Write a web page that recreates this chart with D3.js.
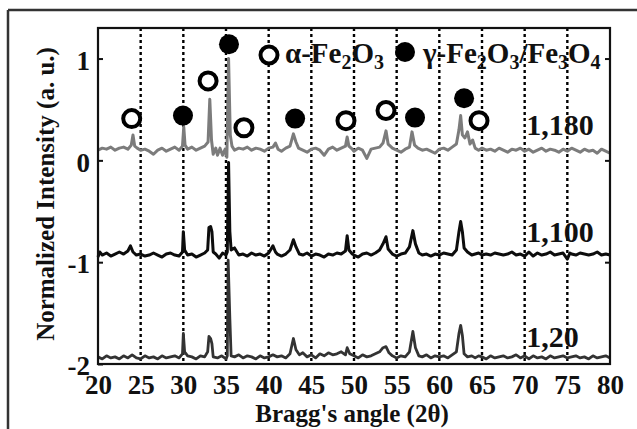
<!DOCTYPE html>
<html>
<head>
<meta charset="utf-8">
<script src="https://cdn.jsdelivr.net/npm/d3@7"></script>
<style>
  body { margin: 0; background: #fff; }
  svg text { font-family: "Liberation Serif", "Times New Roman", serif; font-weight: bold; fill: #111; }
</style>
</head>
<body>
<script>
// XRD scans: [Bragg angle, normalized intensity]
const scan1180 = [
  [20.0,0.10],[20.5,0.12],[21.0,0.11],[21.5,0.13],[22.0,0.10],[22.5,0.12],[23.0,0.13],[23.5,0.11],[23.9,0.15],[24.1,0.25],
  [24.3,0.14],[24.6,0.12],[25.0,0.10],[25.5,0.11],[26.0,0.09],[26.5,0.06],[27.0,0.10],[27.5,0.12],[28.0,0.09],[28.5,0.11],
  [29.0,0.13],[29.5,0.10],[29.9,0.14],[30.05,0.33],[30.2,0.15],[30.5,0.11],[31.0,0.13],[31.5,0.10],[32.0,0.12],[32.5,0.14],
  [32.9,0.18],[33.1,0.60],[33.3,0.20],[33.5,0.06],[33.8,0.12],[34.0,0.05],[34.3,0.12],[34.6,0.05],[34.9,0.11],[35.1,0.03],
  [35.3,1.00],[35.5,0.25],[35.7,0.14],[36.0,0.10],[36.5,0.12],[37.0,0.11],[37.5,0.13],[38.0,0.10],[38.5,0.12],[39.0,0.11],
  [39.5,0.09],[40.0,0.12],[40.5,0.13],[40.8,0.17],[41.1,0.11],[41.5,0.09],[42.0,0.12],[42.5,0.14],[42.9,0.26],[43.2,0.18],
  [43.5,0.12],[44.0,0.10],[44.5,0.08],[45.0,0.11],[45.5,0.12],[46.0,0.10],[46.5,0.05],[47.0,0.11],[47.5,0.13],[48.0,0.10],
  [48.5,0.12],[49.0,0.14],[49.2,0.23],[49.4,0.14],[49.8,0.11],[50.0,0.09],[50.5,0.12],[51.0,0.10],[51.5,0.02],[52.0,0.11],
  [52.5,0.12],[53.0,0.13],[53.4,0.17],[53.75,0.29],[54.0,0.16],[54.5,0.12],[55.0,0.10],[55.5,0.08],[56.0,0.11],[56.5,0.13],
  [56.8,0.28],[57.1,0.15],[57.5,0.12],[58.0,0.10],[58.5,0.11],[59.0,0.09],[59.5,0.07],[60.0,0.11],[60.5,0.12],[61.0,0.10],
  [61.5,0.13],[62.0,0.16],[62.3,0.30],[62.5,0.44],[62.7,0.25],[63.0,0.22],[63.3,0.28],[63.6,0.16],[63.9,0.20],[64.2,0.12],
  [64.6,0.10],[65.0,0.12],[65.5,0.10],[66.0,0.11],[66.5,0.09],[67.0,0.12],[67.5,0.10],[68.0,0.08],[68.5,0.11],[69.0,0.10],
  [69.5,0.12],[70.0,0.09],[70.5,0.11],[71.0,0.08],[71.5,0.10],[72.0,0.12],[72.5,0.09],[73.0,0.11],[73.5,0.10],[74.0,0.08],
  [74.5,0.11],[75.0,0.09],[75.5,0.12],[76.0,0.10],[76.5,0.08],[77.0,0.11],[77.5,0.09],[78.0,0.10],[78.5,0.07],[79.0,0.11],
  [79.5,0.09],[80.0,0.07]
];
const scan1100 = [
  [20.0,-0.95],[20.2,-0.90],[20.5,-0.93],[21.0,-0.91],[21.5,-0.94],[22.0,-0.92],[22.5,-0.90],[23.0,-0.92],[23.5,-0.89],[23.8,-0.84],
  [24.1,-0.90],[24.5,-0.93],[25.0,-0.92],[25.5,-0.94],[26.0,-0.93],[26.5,-0.91],[27.0,-0.93],[27.5,-0.95],[28.0,-0.92],[28.5,-0.91],
  [29.0,-0.93],[29.5,-0.94],[29.9,-0.90],[30.0,-0.70],[30.15,-0.88],[30.5,-0.93],[31.0,-0.92],[31.5,-0.95],[32.0,-0.93],[32.5,-0.91],
  [32.85,-0.88],[33.0,-0.66],[33.2,-0.65],[33.35,-0.70],[33.5,-0.90],[33.8,-0.92],[34.2,-0.96],[34.6,-0.91],[35.0,-0.93],[35.15,-0.90],
  [35.3,-0.02],[35.45,-0.70],[35.6,-0.88],[36.0,-0.86],[36.5,-0.93],[37.0,-0.92],[37.5,-0.94],[38.0,-0.91],[38.5,-0.93],[39.0,-0.92],
  [39.5,-0.94],[40.0,-0.91],[40.5,-0.84],[40.8,-0.90],[41.0,-0.92],[41.5,-0.94],[42.0,-0.92],[42.5,-0.88],[42.9,-0.78],[43.2,-0.85],
  [43.6,-0.92],[44.0,-0.93],[44.5,-0.91],[45.0,-0.94],[45.5,-0.92],[46.0,-0.93],[46.5,-0.95],[47.0,-0.92],[47.5,-0.93],[48.0,-0.91],
  [48.5,-0.92],[49.0,-0.89],[49.2,-0.74],[49.4,-0.88],[49.8,-0.92],[50.0,-0.93],[50.5,-0.95],[51.0,-0.92],[51.5,-0.91],[52.0,-0.93],
  [52.5,-0.91],[53.0,-0.88],[53.4,-0.82],[53.75,-0.75],[54.0,-0.87],[54.5,-0.92],[55.0,-0.94],[55.5,-0.92],[56.0,-0.91],[56.5,-0.85],
  [56.9,-0.69],[57.2,-0.82],[57.6,-0.91],[58.0,-0.93],[58.5,-0.92],[59.0,-0.94],[59.5,-0.92],[60.0,-0.93],[60.5,-0.91],[61.0,-0.92],
  [61.5,-0.93],[62.0,-0.88],[62.3,-0.70],[62.5,-0.60],[62.7,-0.70],[62.9,-0.86],[63.3,-0.90],[63.8,-0.93],[64.2,-0.92],[64.6,-0.91],
  [65.0,-0.93],[65.5,-0.92],[66.0,-0.93],[66.5,-0.91],[67.0,-0.92],[67.5,-0.93],[68.0,-0.92],[68.5,-0.90],[69.0,-0.93],[69.5,-0.92],
  [70.0,-0.94],[70.5,-0.90],[71.0,-0.94],[71.5,-0.91],[72.0,-0.93],[72.5,-0.92],[73.0,-0.90],[73.5,-0.93],[74.0,-0.92],[74.5,-0.91],
  [75.0,-0.97],[75.3,-0.91],[75.5,-0.92],[76.0,-0.93],[76.5,-0.91],[77.0,-0.92],[77.5,-0.93],[78.0,-0.92],[78.5,-0.90],[79.0,-0.93],
  [79.5,-0.92],[80.0,-0.93]
];
const scan120 = [
  [20.0,-1.93],[20.5,-1.95],[21.0,-1.92],[21.5,-1.94],[22.0,-1.93],[22.5,-1.95],[23.0,-1.92],[23.5,-1.94],[24.0,-1.91],[24.5,-1.94],
  [25.0,-1.95],[25.5,-1.92],[26.0,-1.94],[26.5,-1.93],[27.0,-1.95],[27.5,-1.92],[28.0,-1.94],[28.5,-1.93],[29.0,-1.92],[29.5,-1.94],
  [29.9,-1.90],[30.0,-1.70],[30.15,-1.88],[30.5,-1.92],[31.0,-1.93],[31.5,-1.95],[32.0,-1.92],[32.5,-1.93],[32.85,-1.88],[33.0,-1.73],
  [33.2,-1.75],[33.35,-1.80],[33.5,-1.93],[34.0,-1.94],[34.5,-1.92],[35.0,-1.95],[35.15,-1.92],[35.25,-0.98],[35.45,-1.55],[35.6,-1.92],
  [36.0,-1.93],[36.5,-1.91],[37.0,-1.94],[37.5,-1.92],[38.0,-1.93],[38.5,-1.95],[39.0,-1.92],[39.5,-1.94],[40.0,-1.93],[40.5,-1.91],
  [41.0,-1.93],[41.5,-1.92],[42.0,-1.94],[42.5,-1.90],[42.9,-1.75],[43.2,-1.86],[43.6,-1.91],[44.0,-1.89],[44.5,-1.93],[45.0,-1.91],
  [45.5,-1.94],[46.0,-1.90],[46.5,-1.92],[47.0,-1.89],[47.5,-1.91],[48.0,-1.90],[48.5,-1.88],[49.0,-1.91],[49.2,-1.84],[49.5,-1.90],
  [50.0,-1.92],[50.5,-1.94],[51.0,-1.91],[51.5,-1.93],[52.0,-1.92],[52.5,-1.90],[53.0,-1.88],[53.4,-1.84],[53.75,-1.83],[54.1,-1.89],
  [54.5,-1.92],[55.0,-1.94],[55.5,-1.92],[56.0,-1.93],[56.5,-1.88],[56.9,-1.68],[57.2,-1.84],[57.6,-1.92],[58.0,-1.93],[58.5,-1.91],
  [59.0,-1.94],[59.5,-1.92],[60.0,-1.93],[60.5,-1.92],[61.0,-1.94],[61.5,-1.91],[62.0,-1.88],[62.3,-1.70],[62.5,-1.62],[62.7,-1.72],
  [62.9,-1.90],[63.3,-1.93],[63.8,-1.92],[64.2,-1.94],[64.6,-1.92],[65.0,-1.93],[65.5,-1.95],[66.0,-1.92],[66.5,-1.94],[67.0,-1.93],
  [67.5,-1.92],[68.0,-1.94],[68.5,-1.93],[69.0,-1.91],[69.5,-1.94],[70.0,-1.92],[70.5,-1.95],[71.0,-1.92],[71.5,-1.94],[72.0,-1.93],
  [72.5,-1.95],[73.0,-1.92],[73.5,-1.94],[74.0,-1.93],[74.5,-1.92],[75.0,-1.94],[75.5,-1.93],[76.0,-1.92],[76.5,-1.94],[77.0,-1.93],
  [77.5,-1.95],[78.0,-1.92],[78.5,-1.94],[79.0,-1.93],[79.5,-1.92],[80.0,-1.94]
];

// phase markers above the 1,180 scan
const alphaPeaks = [[23.95,0.41],[32.9,0.78],[37.1,0.32],[49.06,0.39],[53.75,0.49],[64.65,0.39]];
const gammaPeaks = [[29.96,0.44],[35.35,1.14],[43.1,0.41],[57.15,0.42],[62.9,0.61]];

const sampleNames = ["1,180", "1,100", "1,20"];
const xTicks = [20, 25, 30, 35, 40, 45, 50, 55, 60, 65, 70, 75, 80];
const yTicks = [-2, -1, 0, 1];
const gridAngles = [25, 30, 35, 40, 45, 50, 55, 60, 65, 70, 75];

const W = 637, H = 429;
const m = {left: 98, right: 27, top: 28, bottom: 65};

const svg = d3.select("body").append("svg")
    .attr("width", W)
    .attr("height", H);

// outer figure frame (only top and left edges show)
svg.append("line").attr("x1", 8).attr("x2", W).attr("y1", 10).attr("y2", 10)
    .attr("stroke", "#333").attr("stroke-width", 2.5);
svg.append("line").attr("x1", 8).attr("x2", 8).attr("y1", 10).attr("y2", H)
    .attr("stroke", "#333").attr("stroke-width", 2.5);

const x = d3.scaleLinear().domain([20, 80]).range([m.left, W - m.right]);
const y = d3.scaleLinear().domain([-2, 1.3]).range([H - m.bottom, m.top]);

// dotted grid
svg.append("g").selectAll("line")
    .data(gridAngles)
    .enter()
    .append("line")
    .attr("x1", d => x(d)).attr("x2", d => x(d))
    .attr("y1", y(1.3)).attr("y2", y(-2))
    .attr("stroke", "#000")
    .attr("stroke-width", 2.4)
    .attr("stroke-dasharray", "3,3");

// scans
const line = d3.line().x(d => x(d[0])).y(d => y(d[1]));
const scans = [
  {data: scan120, color: "#333", w: 2.8},
  {data: scan1100, color: "#0d0d0d", w: 3},
  {data: scan1180, color: "#7c7c7c", w: 3}
];
svg.append("g").selectAll("path")
    .data(scans)
    .enter()
    .append("path")
    .attr("d", d => line(d.data))
    .attr("fill", "none")
    .attr("stroke", d => d.color)
    .attr("stroke-width", d => d.w)
    .attr("stroke-linejoin", "round");

// axes: labels on bottom and left, inward ticks on left and right
const xAxis = svg.append("g")
    .attr("transform", "translate(0," + y(-2) + ")")
    .call(d3.axisBottom(x).tickValues(xTicks).tickSize(0).tickPadding(11));
xAxis.select(".domain").remove();
xAxis.selectAll("text").style("font-size", "27px").attr("fill", "#111");

const yAxis = svg.append("g")
    .attr("transform", "translate(" + m.left + ",0)")
    .call(d3.axisLeft(y).tickValues(yTicks).tickSize(-5).tickPadding(8).tickFormat(d => String(d)));
yAxis.select(".domain").remove();
yAxis.selectAll("line").attr("stroke", "#111").attr("stroke-width", 2);
yAxis.selectAll("text").style("font-size", "27px").attr("fill", "#111").attr("dy", "0.4em");

const yAxisR = svg.append("g")
    .attr("transform", "translate(" + (W - m.right) + ",0)")
    .call(d3.axisRight(y).tickValues([-1, 0, 1]).tickSize(-5).tickFormat(""));
yAxisR.select(".domain").remove();
yAxisR.selectAll("line").attr("stroke", "#111").attr("stroke-width", 2);

// plot frame
svg.append("rect")
    .attr("x", x(20)).attr("y", y(1.3))
    .attr("width", x(80) - x(20)).attr("height", y(-2) - y(1.3))
    .attr("fill", "none").attr("stroke", "#111").attr("stroke-width", 2.2);

// phase markers
svg.append("g").selectAll("circle")
    .data(alphaPeaks)
    .enter()
    .append("circle")
    .attr("cx", d => x(d[0])).attr("cy", d => y(d[1]))
    .attr("r", 8.5)
    .attr("fill", "#fff").attr("stroke", "#000").attr("stroke-width", 4);
svg.append("g").selectAll("circle")
    .data(gammaPeaks)
    .enter()
    .append("circle")
    .attr("cx", d => x(d[0])).attr("cy", d => y(d[1]))
    .attr("r", 10)
    .attr("fill", "#000");

// legend
const leg = svg.append("g");
leg.append("circle").attr("cx", 269).attr("cy", 55).attr("r", 8.5)
    .attr("fill", "#fff").attr("stroke", "#000").attr("stroke-width", 4);
leg.append("circle").attr("cx", 405).attr("cy", 52).attr("r", 10).attr("fill", "#000");

function chem(g, xPos, parts) {
  const t = g.append("text").attr("x", xPos).attr("y", 63).style("font-size", "29px");
  parts.forEach(p => {
    const s = t.append("tspan").text(p[0]);
    if (p[1]) s.attr("baseline-shift", "-28%").style("font-size", "20px");
  });
}
chem(leg, 285, [["α-Fe"], ["2", 1], ["O"], ["3", 1]]);
chem(leg, 423, [["γ-Fe"], ["2", 1], ["O"], ["3", 1], ["/Fe"], ["3", 1], ["O"], ["4", 1]]);

// sample labels
const labelLevels = [0.245, -0.80, -1.83];
svg.append("g").selectAll("text")
    .data(sampleNames)
    .enter()
    .append("text")
    .attr("x", x(70.2))
    .attr("y", (d, i) => y(labelLevels[i]))
    .style("font-size", "30px")
    .text(d => d);

// axis titles
svg.append("text")
    .attr("x", 352).attr("y", 422)
    .attr("text-anchor", "middle")
    .style("font-size", "25px")
    .text("Bragg's angle (2θ)");
svg.append("text")
    .attr("transform", "translate(54,194) rotate(-90)")
    .attr("text-anchor", "middle")
    .style("font-size", "25px")
    .text("Normalized Intensity (a. u.)");
</script>
</body>
</html>
